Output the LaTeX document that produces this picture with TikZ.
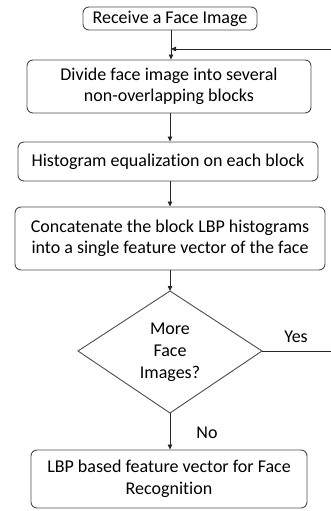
\documentclass[tikz,border=0pt]{standalone}
\usepackage{fontspec}
\setmainfont{Carlito}[Ligatures=NoCommon]
\usetikzlibrary{arrows.meta,shapes.geometric}
\begin{document}
\begin{tikzpicture}[x=1pt,y=-1pt,
  box/.style={draw=black!70,rounded corners=6pt,line width=0.9pt,inner sep=0pt,align=center,font=\fontsize{18}{21.5}\selectfont},
  arr/.style={draw=black!85,line width=0.8pt,-{Triangle[length=5pt,width=4.5pt]}},
  lbl/.style={font=\fontsize{18}{22}\selectfont}]
\useasboundingbox (0,0) rectangle (331,511);
\node[box,minimum width=174pt,minimum height=23pt] (b1) at (170,18.5) {\raisebox{-1.5pt}{Receive a Face Image}};
\node[box,minimum width=284pt,minimum height=53pt] (b2) at (169,86.5) {Divide face image into several\\non-overlapping blocks};
\node[box,minimum width=300pt,minimum height=39pt] (b3) at (168,161.5) {Histogram equalization on each block};
\node[box,minimum width=310pt,minimum height=63pt] (b4) at (170,238.5) {Concatenate the block LBP histograms\\into a single feature vector of the face};
\coordinate (dt) at (170,291);
\coordinate (dl) at (78,351);
\coordinate (dr) at (262,351);
\coordinate (db) at (170,413);
\draw[draw=black!70,line width=0.9pt] (dt) -- (dr) -- (db) -- (dl) -- cycle;
\node[lbl,align=center] (dq) at (170,352) {More\\Face\\Images?};
\node[box,minimum width=276pt,minimum height=58pt] (b5) at (169,479) {LBP based feature vector for Face\\Recognition};
\coordinate (m) at (171,49);
\coordinate (re) at (332,351);
\coordinate (rt) at (332,49);
\draw[arr] (b1.south -| m) -- (b2.north -| m);
\draw[arr] (b2.south -| dt) -- (b3.north -| dt);
\draw[arr] (b3.south -| dt) -- (b4.north -| dt);
\draw[arr] (b4.south -| dt) -- (dt);
\draw[arr] (db) -- (b5.north -| db);
\draw[arr] (dr) -- (re) -- (rt) -- (m);
\node[lbl] (yes) at (296,337) {Yes};
\node[lbl] (no) at (207,433) {No};
\end{tikzpicture}
\end{document}
